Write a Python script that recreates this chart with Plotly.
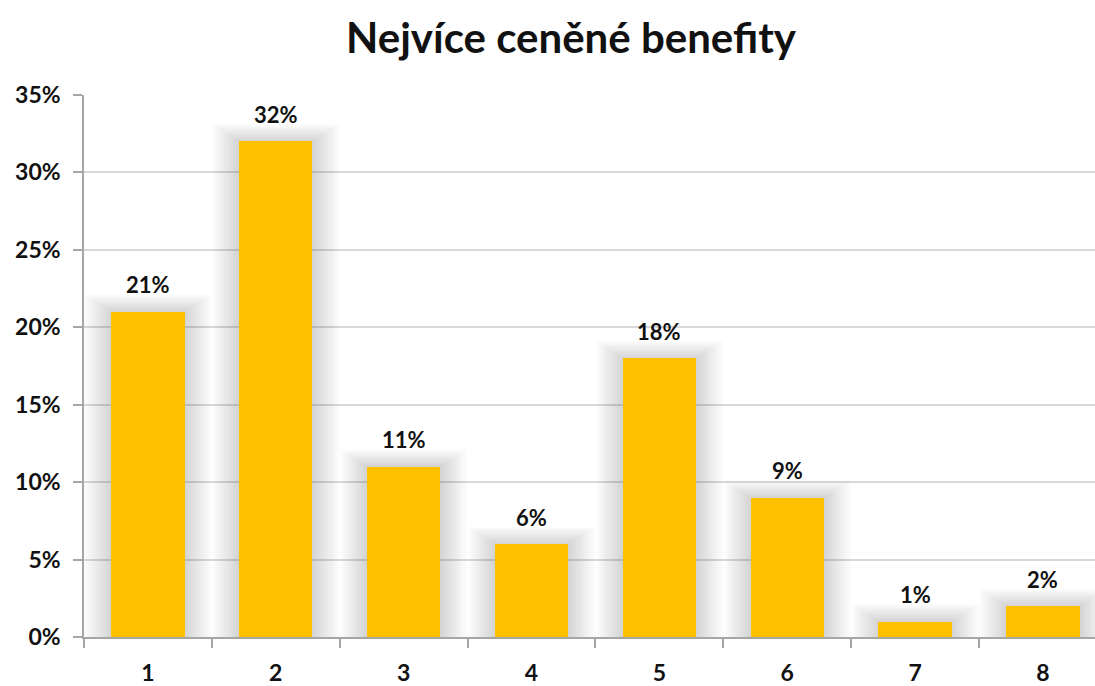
import plotly.graph_objects as go

categories = ["1", "2", "3", "4", "5", "6", "7", "8"]
shares = [21, 32, 11, 6, 18, 9, 1, 2]          # percent
y_ticks = [0, 5, 10, 15, 20, 25, 30, 35]
title_text = "Nejvíce ceněné benefity"

values = [s / 100 for s in shares]
FONT = "Lato"
BAR_COLOR = "#FFC000"
BAR_W = 0.573

fig = go.Figure()

# soft drop shadow behind each bar: stacked translucent, progressively larger bars
for k in range(1, 15):
    fig.add_trace(go.Bar(
        x=categories,
        y=[v + 0.0008 * k for v in values],
        width=BAR_W + 0.03 * k,
        marker=dict(color="rgba(110,110,110,0.018)", line=dict(width=0)),
        hoverinfo="skip",
        showlegend=False,
    ))

fig.add_trace(go.Bar(
    x=categories,
    y=values,
    width=BAR_W,
    marker=dict(color=BAR_COLOR, line=dict(width=0)),
    showlegend=False,
))

for i, (s, v) in enumerate(zip(shares, values)):
    fig.add_annotation(
        x=i, y=v, text=f"{s}%", showarrow=False,
        yanchor="middle", yshift=27,
        font=dict(family=FONT, size=22, color="#111111", weight="bold"),
    )

fig.update_layout(
    width=1095, height=686,
    margin=dict(l=84, r=0, t=95, b=49),
    paper_bgcolor="white", plot_bgcolor="white",
    barmode="overlay", bargap=0,
    title=dict(
        text=title_text, x=571 / 1095, xanchor="center", xref="container",
        y=1 - 38 / 686, yanchor="middle", yref="container",
        font=dict(family=FONT, size=42, color="#111111", weight="bold"),
    ),
)

fig.update_xaxes(
    type="category", categoryorder="array", categoryarray=categories,
    range=[-0.5, 7.407], tickson="boundaries",
    ticks="outside", ticklen=9, tickcolor="#A6A6A6", tickwidth=1.5,
    showline=True, linecolor="#A6A6A6", linewidth=1.5,
    showgrid=False, ticklabelstandoff=15,
    tickfont=dict(family=FONT, size=23, color="#111111", weight="bold"),
)
fig.update_yaxes(
    range=[0, 0.35], tickvals=[t / 100 for t in y_ticks],
    ticktext=[f"{t}%" for t in y_ticks],
    ticks="outside", ticklen=9, tickcolor="#A6A6A6", tickwidth=1.5,
    showline=True, linecolor="#A6A6A6", linewidth=1.5,
    showgrid=True, gridcolor="#D9D9D9", gridwidth=1.5,
    zeroline=False, ticklabelstandoff=8,
    tickfont=dict(family=FONT, size=23, color="#111111", weight="bold"),
)

fig.write_html("out.html")
